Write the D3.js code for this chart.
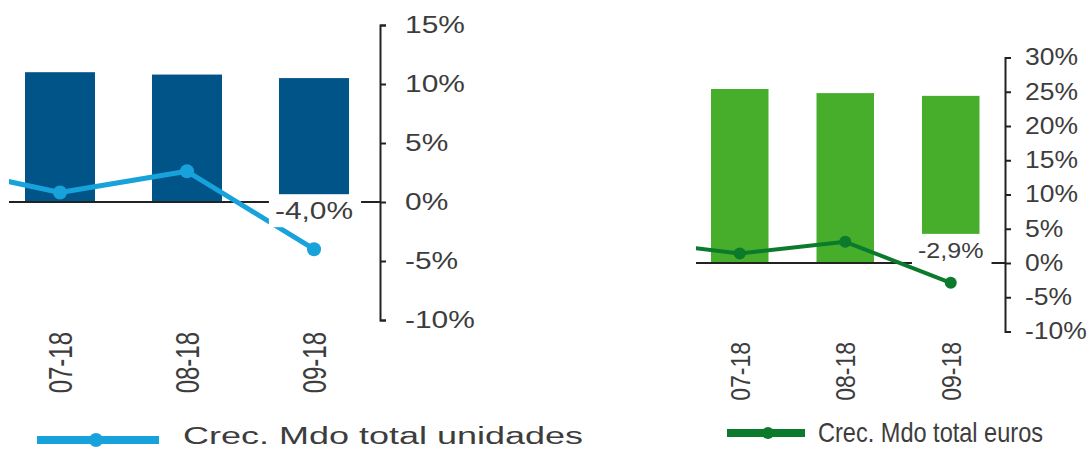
<!DOCTYPE html>
<html>
<head>
<meta charset="utf-8">
<script src="https://cdn.jsdelivr.net/npm/d3@7"></script>
<style>
  body { margin: 0; background: #fff; }
  svg { display: block; font-family: "Liberation Sans", Arial, sans-serif; }
</style>
</head>
<body>
<svg id="chart" width="1088" height="450"></svg>
<script>
// 06-18 is only the start of the line, off the left edge of each panel
const categories = ["06-18", "07-18", "08-18", "09-18"];
const shownCategories = ["07-18", "08-18", "09-18"];

const unitBars = [11.0, 10.8, 10.5];
const unitGrowth = [3.1, 0.8, 2.6, -4.0];
const unitTicks = [-10, -5, 0, 5, 10, 15];

const euroBars = [25.4, 24.8, 24.4];
const euroGrowth = [3.2, 1.4, 3.1, -2.9];
const euroTicks = [-10, -5, 0, 5, 10, 15, 20, 25, 30];

const svg = d3.select("#chart");

// stretch a horizontal text node by factor k
function stretch(sel, k) {
  sel.each(function () {
    const w = this.getComputedTextLength();
    d3.select(this).attr("textLength", w * k).attr("lengthAdjust", "spacingAndGlyphs");
  });
}

const panels = [
  {
    id: "u",
    bars: unitBars, growth: unitGrowth, ticks: unitTicks,
    yDomain: [-10, 15], yRange: [320, 25],
    xRange: [-130.5, 377.5], padding: 0.449,
    axisX: 380, clipX: 9,
    barColor: "#005487", lineColor: "#18a2dc", lineWidth: 5, r: 7,
    labelGap: 30, labelFont: 23, labelStretch: 1.3,
    tickFont: 23, tickStretch: 1.3, tickPad: 19,
    catFont: 24, catStretch: 1.4, catTop: 332,
    legend: { x1: 37, x2: 159, y: 440, mx: 96, width: 8, tx: 183, ty: 444, font: 23, len: 400,
      text: "Crec. Mdo total unidades" }
  },
  {
    id: "e",
    bars: euroBars, growth: euroGrowth, ticks: euroTicks,
    yDomain: [-10, 30], yRange: [331.5, 57.5],
    xRange: [581.5, 1003.5], padding: 0.455,
    axisX: 1005, clipX: 696,
    barColor: "#46ae2b", lineColor: "#0b7a2c", lineWidth: 4, r: 6,
    labelGap: 25, labelFont: 22, labelStretch: 1.14,
    tickFont: 23, tickStretch: 1.15, tickPad: 14,
    catFont: 23, catStretch: 1.23, catTop: 342,
    legend: { x1: 727, x2: 805, y: 433, mx: 768, width: 8, tx: 818, ty: 442, font: 28, len: 225,
      text: "Crec. Mdo total euros" }
  }
];

panels.forEach(p => {
  const x = d3.scaleBand()
    .domain(categories)
    .range(p.xRange)
    .paddingInner(p.padding)
    .paddingOuter(p.padding / 2);
  const y = d3.scaleLinear().domain(p.yDomain).range(p.yRange);
  const cx = c => x(c) + x.bandwidth() / 2;

  svg.append("clipPath").attr("id", "clip-" + p.id)
    .append("rect")
    .attr("x", p.clipX).attr("y", 0)
    .attr("width", p.axisX - p.clipX).attr("height", 450);

  const g = svg.append("g");

  // bars
  g.selectAll("rect.bar")
    .data(p.bars)
    .join("rect")
    .attr("class", "bar")
    .attr("x", (d, i) => x(shownCategories[i]))
    .attr("width", x.bandwidth())
    .attr("y", d => y(d))
    .attr("height", d => y(0) - y(d))
    .attr("fill", p.barColor);

  // zero line
  g.append("line")
    .attr("x1", p.clipX).attr("x2", p.axisX)
    .attr("y1", y(0)).attr("y2", y(0))
    .attr("stroke", "#222").attr("stroke-width", 2);

  // growth line
  const lg = g.append("g").attr("clip-path", `url(#clip-${p.id})`);
  const line = d3.line().x((d, i) => cx(categories[i])).y(d => y(d));
  lg.append("path")
    .datum(p.growth)
    .attr("d", line)
    .attr("fill", "none")
    .attr("stroke", p.lineColor)
    .attr("stroke-width", p.lineWidth)
    .attr("stroke-linejoin", "round");
  lg.selectAll("circle")
    .data(p.growth)
    .join("circle")
    .attr("cx", (d, i) => cx(categories[i]))
    .attr("cy", d => y(d))
    .attr("r", p.r)
    .attr("fill", p.lineColor);

  // label on the last point, with a white box behind
  const last = p.growth[p.growth.length - 1];
  const lastCat = categories[categories.length - 1];
  const lab = g.append("g");
  const box = lab.append("rect").attr("fill", "#fff");
  const lt = lab.append("text")
    .attr("x", cx(lastCat))
    .attr("y", y(last) - p.labelGap)
    .attr("text-anchor", "middle")
    .attr("font-size", p.labelFont)
    .attr("fill", "#3d3d3d")
    .text(last.toFixed(1).replace(".", ",") + "%");
  stretch(lt, p.labelStretch);
  const bb = lt.node().getBBox();
  box.attr("x", bb.x - 6).attr("y", bb.y - 4)
    .attr("width", bb.width + 14).attr("height", bb.height + 7);

  // right axis
  const axis = d3.axisRight(y)
    .tickValues(p.ticks)
    .tickSize(6)
    .tickPadding(p.tickPad)
    .tickFormat(d => d + "%");
  const ag = svg.append("g")
    .attr("transform", `translate(${p.axisX},0)`)
    .call(axis);
  ag.select(".domain").attr("stroke", "#222").attr("stroke-width", 2);
  ag.selectAll(".tick line").attr("stroke", "#222").attr("stroke-width", 2);
  ag.selectAll(".tick text")
    .attr("font-size", p.tickFont)
    .attr("font-family", "Liberation Sans, Arial, sans-serif")
    .attr("fill", "#3d3d3d")
    .call(stretch, p.tickStretch);

  // category labels, rotated
  svg.append("g").selectAll("text")
    .data(shownCategories)
    .join("text")
    .attr("transform", d => `translate(${cx(d)},${p.catTop}) rotate(-90) scale(1,${p.catStretch})`)
    .attr("text-anchor", "end")
    .attr("dy", "0.36em")
    .attr("font-size", p.catFont)
    .attr("fill", "#3d3d3d")
    .text(d => d);

  // legend
  const L = p.legend;
  const leg = svg.append("g");
  leg.append("line")
    .attr("x1", L.x1).attr("x2", L.x2)
    .attr("y1", L.y).attr("y2", L.y)
    .attr("stroke", p.lineColor).attr("stroke-width", L.width);
  leg.append("circle")
    .attr("cx", L.mx).attr("cy", L.y).attr("r", p.r)
    .attr("fill", p.lineColor);
  leg.append("text")
    .attr("x", L.tx).attr("y", L.ty)
    .attr("font-size", L.font)
    .attr("fill", "#3d3d3d")
    .attr("textLength", L.len)
    .attr("lengthAdjust", "spacingAndGlyphs")
    .text(L.text);
});
</script>
</body>
</html>
